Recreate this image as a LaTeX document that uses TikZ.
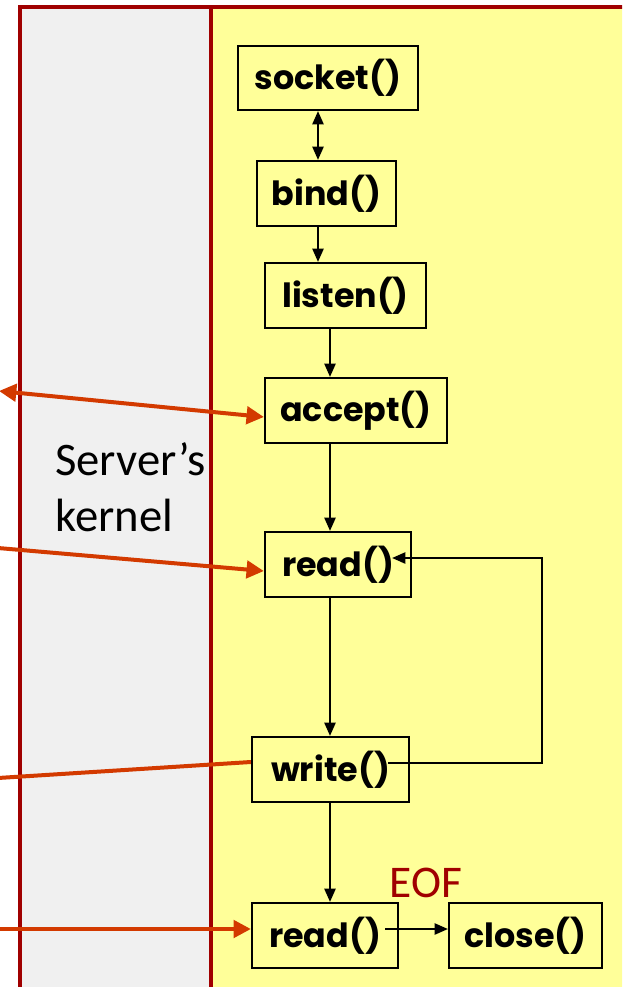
\documentclass[tikz,border=0pt]{standalone}
\usepackage{fontspec}
\setmainfont{Carlito}
\newfontfamily\callfont{Poppins}
\usetikzlibrary{arrows.meta,calc}
\definecolor{kernelgray}{HTML}{F0F0F0}
\definecolor{userbg}{HTML}{FFFF99}
\definecolor{framered}{HTML}{A00000}
\definecolor{netred}{HTML}{D33A00}
\begin{document}
\begin{tikzpicture}[x=0.75pt,y=-0.75pt,
  call/.style={draw=black, line width=1.7pt, fill=userbg, inner sep=0pt,
    minimum height=48.75pt,
    font=\callfont\bfseries\fontsize{25}{29}\selectfont},
  flow/.style={line width=1.3pt, -{Triangle[length=10pt,width=8.5pt]}},
  flowboth/.style={line width=1.3pt, {Triangle[length=10pt,width=8.5pt]}-{Triangle[length=10pt,width=8.5pt]}},
  net/.style={draw=netred, line width=3pt},
  nettip/.style={-{Triangle[length=13pt,width=13pt]}},
  nettips/.style={{Triangle[length=13pt,width=13pt]}-{Triangle[length=13pt,width=13pt]}},
  frame/.style={draw=framered, line width=3.6pt}]
\useasboundingbox (0,0) rectangle (622,987);
\begin{scope}
\clip (0,0) rectangle (622,987);
% background areas
\fill[white] (0,0) rectangle (622,987);
\fill[kernelgray] (20,7) rectangle (211,995);
\fill[userbg] (211,7) rectangle (630,995);
\draw[frame] (20,995) -- (20,7) -- (630,7);
\draw[frame] (211,7) -- (211,995);
\end{scope}

% kernel label
\node[anchor=north west, align=left, inner sep=0pt,
  font=\fontsize{35}{42}\selectfont] (kern) at (55,442) {Server’s\\kernel};

% calls
\node[call, minimum width=135pt, minimum height=48pt] (socket) at (328,78) {socket()};
\node[call, minimum width=104.25pt] (bind) at (326.5,193.5) {bind()};
\node[call, minimum width=120.75pt] (listen) at (345.5,295.5) {listen()};
\node[call, minimum width=136.5pt] (accept) at (356,410.5) {accept()};
\node[call, minimum width=109.5pt] (readA) at (338,564.5) {read()};
\node[call, minimum width=117.75pt] (write) at (330.5,769.5) {write()};
\node[call, minimum width=109.5pt] (readB) at (325,935.5) {read()};
\node[call, minimum width=114.75pt] (close) at (525.5,935.5) {close()};

\node[text=framered, font=\fontsize{34}{40}\selectfont, inner sep=0pt] (eof) at (426,883) {EOF};

% column guides
\coordinate (colA) at (318,0);
\coordinate (colB) at (330,0);
\coordinate (loopR) at (542,0);

% control flow
\draw[flowboth] (socket.south -| colA) -- (bind.north -| colA);
\draw[flow] (bind.south -| colA) -- (listen.north -| colA);
\draw[flow] (listen.south -| colB) -- (accept.north -| colB);
\draw[flow] (accept.south -| colB) -- (readA.north -| colB);
\draw[flow] (readA.south -| colB) -- (write.north -| colB);
\draw[flow] (write.south -| colB) -- (readB.north -| colB);
\coordinate (loopS) at ($(write.east)+(-22,-6.5)$);
\coordinate (loopE) at ($(readA.east)+(-20,-6.5)$);
\draw[flow] (loopS) -- (loopS -| loopR) -- (loopE -| loopR) -- (loopE);
\coordinate (eofS) at ($(readB.east)+(-14,-6.5)$);
\draw[flow] (eofS) -- (eofS -| close.west);

% traffic from the network side
\coordinate (inAccept) at (-1,391);
\coordinate (inReadA) at (-2,548);
\coordinate (outWrite) at (-2,778);
\coordinate (inReadB) at (-2,929);
\draw[net, nettips] (inAccept) -- ($(accept.west)+(0,6.5)$);
\draw[net, nettip] (inReadA) -- ($(readA.west)+(0,6.5)$);
\draw[net] (outWrite) -- ($(write.west)+(0,-7.5)$);
\draw[net, nettip] (inReadB) -- (inReadB -| readB.west);
\end{tikzpicture}
\end{document}
